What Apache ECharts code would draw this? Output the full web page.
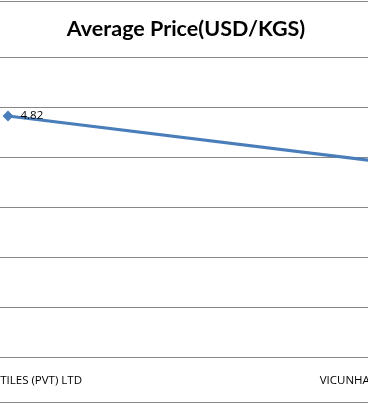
<!DOCTYPE html>
<html>
<head>
<meta charset="utf-8">
<script src="https://cdn.jsdelivr.net/npm/echarts@6/dist/echarts.min.js"></script>
<style>
html,body{margin:0;padding:0;background:#fff;overflow:hidden;width:368px;height:404px;}
#chart{width:372px;height:404px;}
</style>
</head>
<body>
<div id="chart"></div>
<script>
var titleText = "Average Price(USD/KGS)";
var categories = ["NOMAN TEXTILES (PVT) LTD", "VICUNHA TEXTIL S.A."];
var prices = [4.82, 3.92];
var yTicks = {min: 0, max: 6, interval: 1};

var chart = echarts.init(document.getElementById('chart'), null, {renderer: 'canvas'});
chart.setOption({
  animation: false,
  backgroundColor: '#ffffff',
  title: {
    text: titleText,
    left: 'center',
    top: 13,
    textStyle: {fontFamily: 'Lato', fontWeight: 'bold', fontSize: 21.5, color: '#000000'}
  },
  graphic: [
    {type: 'rect', silent: true, shape: {x: 0, y: 1, width: 372, height: 1}, style: {fill: '#868686'}},
    {type: 'rect', silent: true, shape: {x: 0, y: 402, width: 372, height: 1}, style: {fill: '#868686'}}
  ],
  grid: {left: -175.5, right: -186.5, top: 57, height: 300, containLabel: false, outerBoundsMode: 'none'},
  xAxis: {
    type: 'category',
    data: categories,
    boundaryGap: true,
    axisLine: {show: true, lineStyle: {color: '#868686', width: 1}},
    axisTick: {show: false},
    splitLine: {show: false},
    axisLabel: {interval: 0, margin: 18, fontFamily: 'Open Sans', fontSize: 11.5, color: '#000000'}
  },
  yAxis: {
    type: 'value',
    min: yTicks.min, max: yTicks.max, interval: yTicks.interval,
    axisLine: {show: false},
    axisTick: {show: false},
    axisLabel: {show: false},
    splitLine: {show: true, lineStyle: {color: '#868686', width: 1}}
  },
  series: [{
    type: 'line',
    data: prices,
    symbol: 'diamond',
    symbolSize: 11,
    itemStyle: {color: '#4a7ebb'},
    lineStyle: {color: '#4a7ebb', width: 3},
    label: {
      show: true,
      position: 'right',
      distance: 7,
      fontFamily: 'Open Sans',
      fontSize: 11.5,
      color: '#000000',
      formatter: function (p) { return p.value.toFixed(2); }
    }
  }]
});
</script>
</body>
</html>
